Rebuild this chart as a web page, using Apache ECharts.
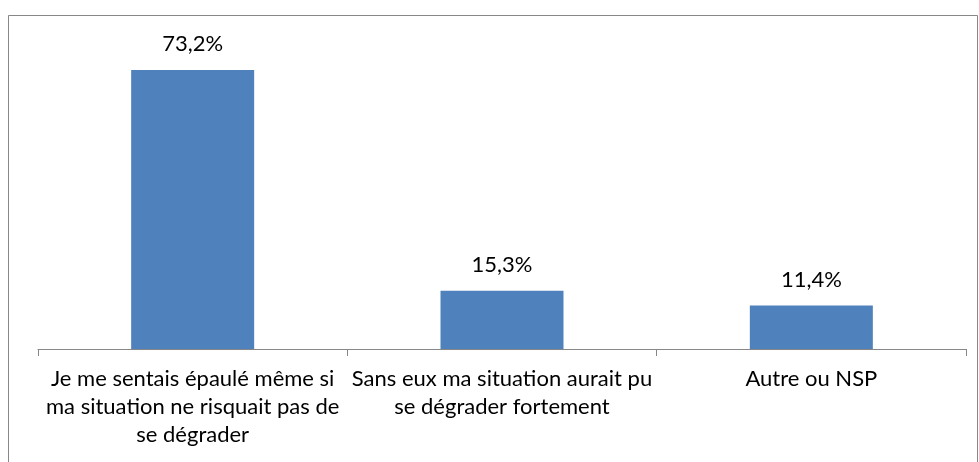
<!DOCTYPE html>
<html>
<head>
<meta charset="utf-8">
<script src="https://cdn.jsdelivr.net/npm/echarts@6/dist/echarts.min.js"></script>
<style>
  html, body { margin: 0; padding: 0; background: #fff; }
  #chart { width: 979px; height: 462px; }
</style>
</head>
<body>
<div id="chart"></div>
<script>
// Answer categories (line breaks as displayed under the axis)
const categories = [
  "Je me sentais épaulé même si\nma situation ne risquait pas de\nse dégrader",
  "Sans eux ma situation aurait pu\nse dégrader fortement",
  "Autre ou NSP"
];
// Share of respondents, in percent
const values = [73.2, 15.3, 11.4];

const chart = echarts.init(document.getElementById('chart'), null, { renderer: 'canvas' });

const fontFamily = "Lato, 'Open Sans', sans-serif";

chart.setOption({
  animation: false,
  backgroundColor: '#ffffff',
  graphic: [{
    type: 'rect',
    shape: { x: 8.5, y: 15.5, width: 969, height: 460 },
    style: { fill: 'none', stroke: '#878787', lineWidth: 1 },
    silent: true,
    z: -1
  }],
  grid: { left: 38, right: 13, top: 44, bottom: 113, containLabel: false },
  xAxis: {
    type: 'category',
    data: categories,
    axisLine: { show: true, lineStyle: { color: '#878787', width: 1 } },
    axisTick: { show: true, length: 7, lineStyle: { color: '#878787' } },
    axisLabel: {
      interval: 0,
      margin: 16,
      color: '#000000',
      fontSize: 22,
      fontFamily: fontFamily,
      lineHeight: 28,
      align: 'center'
    }
  },
  yAxis: {
    type: 'value',
    min: 0,
    max: 80,
    show: false,
    splitLine: { show: false }
  },
  series: [{
    type: 'bar',
    data: values,
    barWidth: 123,
    itemStyle: { color: '#4F81BD' },
    label: {
      show: true,
      position: 'top',
      distance: 15,
      color: '#000000',
      fontSize: 22,
      fontFamily: fontFamily,
      formatter: p => p.value.toFixed(1).replace('.', ',') + '%'
    }
  }]
});
</script>
</body>
</html>
